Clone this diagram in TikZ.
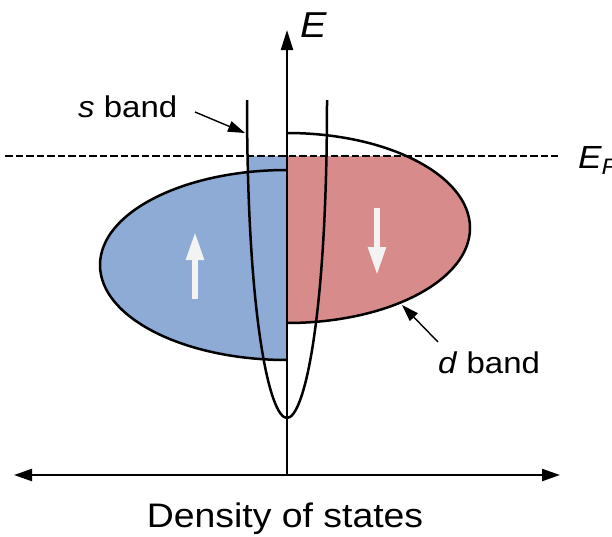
\documentclass[tikz,border=0pt]{standalone}
\usepackage{fontspec}
\setmainfont[FakeStretch=1.1]{Liberation Sans}
\usetikzlibrary{arrows.meta}
\definecolor{upblue}{RGB}{141,171,213}
\definecolor{downred}{RGB}{215,139,139}
\definecolor{spinwhite}{RGB}{243,243,243}
\tikzset{
  outline/.style={line width=2.5pt, black},
  axisline/.style={line width=2.3pt, black},
  spinarrow/.style={line width=5.5pt, spinwhite, -{Triangle[length=28pt,width=17pt]}},
  pointer/.style={line width=1.4pt, black, -{Triangle[length=17pt,width=11pt]}},
  lbl/.style={inner sep=0pt, font=\fontsize{30}{34}\selectfont},
}
\begin{document}
\begin{tikzpicture}[x=1pt,y=-1pt]
\useasboundingbox (0,0) rectangle (612,536);
% s-band filled strip (left, between E_F and top of blue ellipse)
\begin{scope}
  \clip (247,100) .. controls (247,320) and (270,418) .. (287,418) -- (287,100) -- cycle;
  \fill[upblue] (240,156) rectangle (287,200);
\end{scope}
% spin-up (left) half of d band
\begin{scope}
  \clip (0,0) rectangle (287,536);
  \fill[upblue] (287,265) ellipse [x radius=187, y radius=95];
  \draw[outline] (287,265) ellipse [x radius=187, y radius=95];
\end{scope}
% spin-down (right) half of d band
\begin{scope}
  \clip (287,0) rectangle (612,536);
  \begin{scope}
    \clip (287,156) rectangle (612,536);
    \fill[downred] (287,228) ellipse [x radius=183, y radius=95];
  \end{scope}
  \draw[outline] (287,228) ellipse [x radius=183, y radius=95];
\end{scope}
% Fermi level
\coordinate (efl) at (5,156);
\coordinate (efr) at (558,156);
\draw[line width=2.3pt, dash pattern=on 7.5pt off 3pt] (efl) -- (efr);
% s band parabola
\coordinate (sl) at (247,100);
\coordinate (sv) at (287,418);
\coordinate (sr) at (327,100);
\draw[outline] (sl) .. controls (247,320) and (270,418) .. (sv)
               .. controls (304,418) and (327,320) .. (sr);
% axes
\coordinate (ax0) at (287,475);
\coordinate (axtop) at (287,30);
\coordinate (axl) at (14,475);
\coordinate (axr) at (560,475);
\draw[axisline, -{Triangle[length=20pt,width=12pt]}] (ax0) -- (axtop);
\draw[axisline, {Triangle[length=18pt,width=12pt]}-{Triangle[length=18pt,width=12pt]}] (axl) -- (axr);
% spin arrows
\coordinate (ua0) at (195,299);
\coordinate (ua1) at (195,232);
\coordinate (da0) at (377,208);
\coordinate (da1) at (377,275);
\draw[spinarrow] (ua0) -- (ua1);
\draw[spinarrow] (da0) -- (da1);
% labels
\node[lbl, anchor=base west] (elabel) at (300,37) {\fontsize{36}{40}\selectfont\textit{E}};
\node[lbl, anchor=base west] (eflabel) at (578,168) {\fontsize{32}{36}\selectfont\textit{E\textsubscript{F}}};
\node[lbl, anchor=base west] (slabel) at (78,117) {\textit{s} band};
\node[lbl, anchor=base west] (dlabel) at (438,373) {\textit{d} band};
\node[lbl, anchor=base, font=\fontsize{34}{40}\selectfont] (xlabel) at (285,527) {Density of states};
% pointers
\coordinate (sp0) at (195,112);
\coordinate (sp1) at (245,133);
\coordinate (dp0) at (438,342);
\coordinate (dp1) at (402,305);
\draw[pointer] (sp0) -- (sp1);
\draw[pointer] (dp0) -- (dp1);
\end{tikzpicture}
\end{document}
